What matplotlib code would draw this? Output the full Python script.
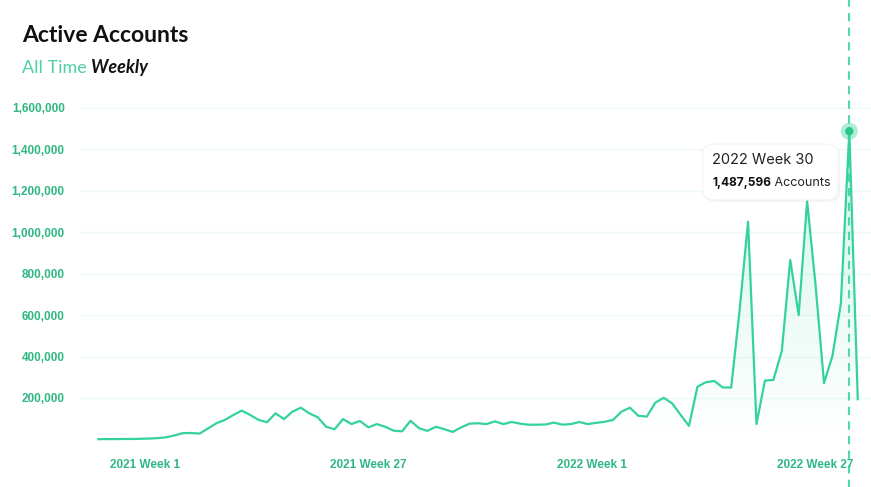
import numpy as np
import matplotlib.pyplot as plt
from matplotlib.patches import FancyBboxPatch

# weekly active accounts, 2020 Week 46 .. 2022 Week 31
weeks = ([f"2020 Week {w}" for w in range(46, 54)]
         + [f"2021 Week {w}" for w in range(1, 53)]
         + [f"2022 Week {w}" for w in range(1, 32)])
accounts = [1000, 1500, 1500, 2000, 2000, 3000, 4000, 6000, 10000, 19000,
            30000, 31000, 28000, 53000, 78000, 94000, 118000, 139000, 118000, 94000,
            83000, 126000, 98000, 134000, 153000, 126000, 107000, 61000, 49000, 98000,
            74000, 89000, 58000, 74000, 61000, 42000, 39000, 90000, 54000, 41000,
            61000, 49000, 36000, 58000, 76000, 78000, 74000, 87000, 74000, 84000,
            76000, 71000, 71000, 72000, 81000, 71000, 74000, 84000, 74000, 80000,
            85000, 94000, 134000, 153000, 114000, 110000, 177000, 201000, 174000, 119000,
            65000, 254000, 276000, 282000, 251000, 250000, 625000, 1051000, 74000, 284000,
            287000, 427000, 866000, 600000, 1151000, 745000, 272000, 403000, 657000, 1487596,
            194000]
tick_labels = ["2021 Week 1", "2021 Week 27", "2022 Week 1", "2022 Week 27"]
tick_pos = [5.5, 32, 58.5, 85]
y_ticks = [200000, 400000, 600000, 800000, 1000000, 1200000, 1400000, 1600000]
highlight = "2022 Week 30"

green = "#34d399"
tick_green = "#2fb883"

plt.rcParams['font.family'] = ['Liberation Sans', 'DejaVu Sans']

fig = plt.figure(figsize=(8.71, 4.87), dpi=100)
W, H = 871, 487
ax = fig.add_axes([80 / W, 1 - 439.4 / H, (W - 80) / W, (439.4 - 87.2) / H])

x = np.arange(len(accounts))
y = np.array(accounts)

ax.plot(x, y, color=green, lw=1.6, zorder=3, clip_on=False)

# gradient fill under the line
poly = ax.fill_between(x, 0, y, color='none')
grad = np.zeros((256, 1, 4))
grad[:, 0, 0] = 52 / 255
grad[:, 0, 1] = 211 / 255
grad[:, 0, 2] = 153 / 255
grad[:, 0, 3] = np.linspace(0, 0.22, 256)
img = ax.imshow(grad, extent=[x[0], x[-1], 0, y.max()], origin='lower',
                aspect='auto', zorder=2)
img.set_clip_path(poly.get_paths()[0], transform=ax.transData)

ax.set_xlim(-2.17, 91.57)
ax.set_ylim(0, 1700000)

ax.set_yticks(y_ticks)
ax.set_yticklabels([f"{v:,}" for v in y_ticks])
ax.set_xticks(tick_pos)
ax.set_xticklabels(tick_labels)
ax.tick_params(axis='y', length=0, pad=11, labelsize=8.5, labelcolor=tick_green)
ax.tick_params(axis='x', length=0, pad=14, labelsize=8.5, labelcolor=tick_green)
for lab in ax.get_xticklabels() + ax.get_yticklabels():
    lab.set_fontweight('bold')
ax.grid(axis='y', color='#edf9f4', lw=1)
ax.set_axisbelow(True)
for s in ax.spines.values():
    s.set_visible(False)

# highlighted week
hi = weeks.index(highlight)
ax.axvline(hi, ymin=-0.2, ymax=1.3, color=green, lw=1.5, ls=(0, (4, 3)),
           alpha=0.85, clip_on=False, zorder=4)
ax.scatter([hi], [accounts[hi]], s=150, color=green, alpha=0.4, zorder=5,
           edgecolors='none', clip_on=False)
ax.scatter([hi], [accounts[hi]], s=36, color='#2cc48a', zorder=6,
           edgecolors='none', clip_on=False)

# tooltip
shadow = FancyBboxPatch((704 / W, 1 - 202 / H), 136 / W, 56 / H,
                        boxstyle="round,pad=0,rounding_size=0.016",
                        transform=fig.transFigure, facecolor='#000000', alpha=0.04,
                        edgecolor='none', zorder=7, clip_on=False)
ax.add_patch(shadow)
box = FancyBboxPatch((703 / W, 1 - 200 / H), 135 / W, 56 / H,
                     boxstyle="round,pad=0,rounding_size=0.016",
                     transform=fig.transFigure, facecolor='white',
                     edgecolor='#f3f3f3', lw=0.8, zorder=8, clip_on=False)
ax.add_patch(box)
ax.text(712 / W, 1 - 160 / H, highlight, fontsize=10.5, color='#222222',
        transform=fig.transFigure, family=['Inter', 'DejaVu Sans'], va='center', zorder=9)
t1 = ax.text(712 / W, 1 - 183 / H, f"{accounts[hi]:,}", fontsize=8.6, color='#111111',
             transform=fig.transFigure, family=['Inter', 'DejaVu Sans'],
             fontweight='bold', va='center', zorder=9)
ax.annotate(" Accounts", xy=(1, 0.5), xycoords=t1, va='center', ha='left',
            fontsize=9, color='#222222', family=['Inter', 'DejaVu Sans'],
            annotation_clip=False, zorder=9)

# title and subtitle
fig.text(22 / W, 1 - 36 / H, "Active Accounts", fontsize=16.5, fontweight='bold',
         family=['Lato', 'DejaVu Sans'], color='#111111', va='center')
t2 = fig.text(22 / W, 1 - 68 / H, "All Time", fontsize=13, color='#4fd1a5',
              family=['Lato', 'DejaVu Sans'], va='center')
ax.annotate(" Weekly", xy=(1, 0.5), xycoords=t2, va='center', ha='left',
            fontsize=13, color='#111111', family=['Lato', 'DejaVu Sans'],
            fontweight='bold', fontstyle='italic', annotation_clip=False)

fig.savefig('out.png', dpi=100)
plt.close(fig)
